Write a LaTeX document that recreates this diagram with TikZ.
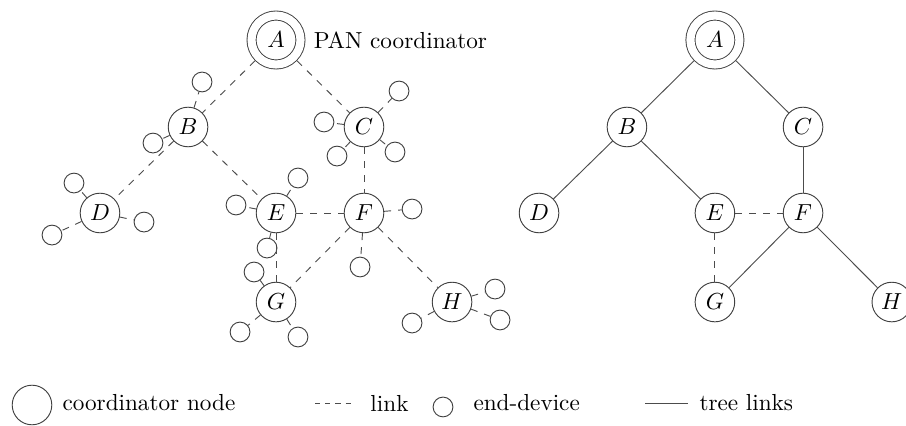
\documentclass[tikz,border=0pt]{standalone}
\usepackage{amsmath}
\usepackage{tikz}

\begin{document}
\begin{tikzpicture}[
	coord/.style={circle, draw=black!75, minimum size=0.6cm, inner sep=0pt},
	pan/.style={circle, draw=black!75, double, double distance=3.5pt, minimum size=0.742cm, inner sep=0pt, outer sep=2.2pt},
	dev/.style={circle, draw=black!75, minimum size=0.3cm, inner sep=0pt},
	link/.style={dashed, draw=black!70},
	tree/.style={draw=black!70}
]
	\useasboundingbox (-4.182,-5.848) rectangle (9.545,0.606);

	% left: all links
	\node[pan] (A) at (0,0) {$A$};
	\node[right] (pantext) at (A.east) {PAN coordinator};
	\node[coord] (B) at (-1.333,-1.318) {$B$};
	\node[coord] (C) at (1.333,-1.318) {$C$};
	\node[coord] (D) at (-2.667,-2.621) {$D$};
	\node[coord] (E) at (0,-2.621) {$E$};
	\node[coord] (F) at (1.333,-2.621) {$F$};
	\node[coord] (G) at (0,-3.97) {$G$};
	\node[coord] (H) at (2.667,-3.97) {$H$};

	\node[dev] (b1) at (-1.121,-0.636) {};
	\node[dev] (b2) at (-1.864,-1.561) {};
	\node[dev] (c1) at (1.864,-0.773) {};
	\node[dev] (c2) at (0.727,-1.242) {};
	\node[dev] (c3) at (0.924,-1.758) {};
	\node[dev] (c4) at (1.803,-1.697) {};
	\node[dev] (d1) at (-3.061,-2.167) {};
	\node[dev] (d2) at (-2.0,-2.758) {};
	\node[dev] (d3) at (-3.394,-2.955) {};
	\node[dev] (e1) at (0.333,-2.091) {};
	\node[dev] (e2) at (-0.606,-2.5) {};
	\node[dev] (e3) at (-0.136,-3.152) {};
	\node[dev] (f1) at (2.061,-2.561) {};
	\node[dev] (f2) at (1.273,-3.439) {};
	\node[dev] (g1) at (-0.333,-3.515) {};
	\node[dev] (g2) at (-0.545,-4.424) {};
	\node[dev] (g3) at (0.333,-4.5) {};
	\node[dev] (h1) at (3.318,-3.773) {};
	\node[dev] (h2) at (3.394,-4.242) {};
	\node[dev] (h3) at (2.061,-4.288) {};

	\draw[link] (A) -- (B);
	\draw[link] (A) -- (C);
	\draw[link] (B) -- (D);
	\draw[link] (B) -- (E);
	\draw[link] (C) -- (F);
	\draw[link] (E) -- (F);
	\draw[link] (E) -- (G);
	\draw[link] (F) -- (G);
	\draw[link] (F) -- (H);

	\draw[link] (B) -- (b1);
	\draw[link] (B) -- (b2);
	\draw[link] (C) -- (c1);
	\draw[link] (C) -- (c2);
	\draw[link] (C) -- (c3);
	\draw[link] (C) -- (c4);
	\draw[link] (D) -- (d1);
	\draw[link] (D) -- (d2);
	\draw[link] (D) -- (d3);
	\draw[link] (E) -- (e1);
	\draw[link] (E) -- (e2);
	\draw[link] (E) -- (e3);
	\draw[link] (F) -- (f1);
	\draw[link] (F) -- (f2);
	\draw[link] (G) -- (g1);
	\draw[link] (G) -- (g2);
	\draw[link] (G) -- (g3);
	\draw[link] (H) -- (h1);
	\draw[link] (H) -- (h2);
	\draw[link] (H) -- (h3);

	% right: tree
	\node[pan] (tA) at (6.65,0) {$A$};
	\node[coord] (tB) at (5.317,-1.318) {$B$};
	\node[coord] (tC) at (7.985,-1.318) {$C$};
	\node[coord] (tD) at (3.985,-2.621) {$D$};
	\node[coord] (tE) at (6.65,-2.621) {$E$};
	\node[coord] (tF) at (7.985,-2.621) {$F$};
	\node[coord] (tG) at (6.65,-3.97) {$G$};
	\node[coord] (tH) at (9.33,-3.97) {$H$};

	\draw[tree] (tA) -- (tB);
	\draw[tree] (tA) -- (tC);
	\draw[tree] (tB) -- (tD);
	\draw[tree] (tB) -- (tE);
	\draw[tree] (tC) -- (tF);
	\draw[tree] (tF) -- (tG);
	\draw[tree] (tF) -- (tH);
	\draw[link] (tE) -- (tF);
	\draw[link] (tE) -- (tG);

	% legend
	\node[coord] (lcoord) at (-3.697,-5.53) {};
	\node[anchor=west] (lcoordtext) at (-3.359,-5.5) {coordinator node};
	\coordinate (llinks) at (0.591,-5.5);
	\coordinate (llinke) at (1.167,-5.5);
	\draw[link, dash pattern=on 2.2pt off 2.2pt] (llinks) -- (llinke);
	\node[anchor=west] (llinktext) at (1.307,-5.5) {link};
	\node[dev] (ldev) at (2.53,-5.56) {};
	\node[anchor=west] (ldevtext) at (2.868,-5.5) {end-device};
	\coordinate (ltrees) at (5.591,-5.5);
	\coordinate (ltreee) at (6.242,-5.5);
	\draw[tree] (ltrees) -- (ltreee);
	\node[anchor=west] (ltreetext) at (6.292,-5.5) {tree links};

\end{tikzpicture}
\end{document}
